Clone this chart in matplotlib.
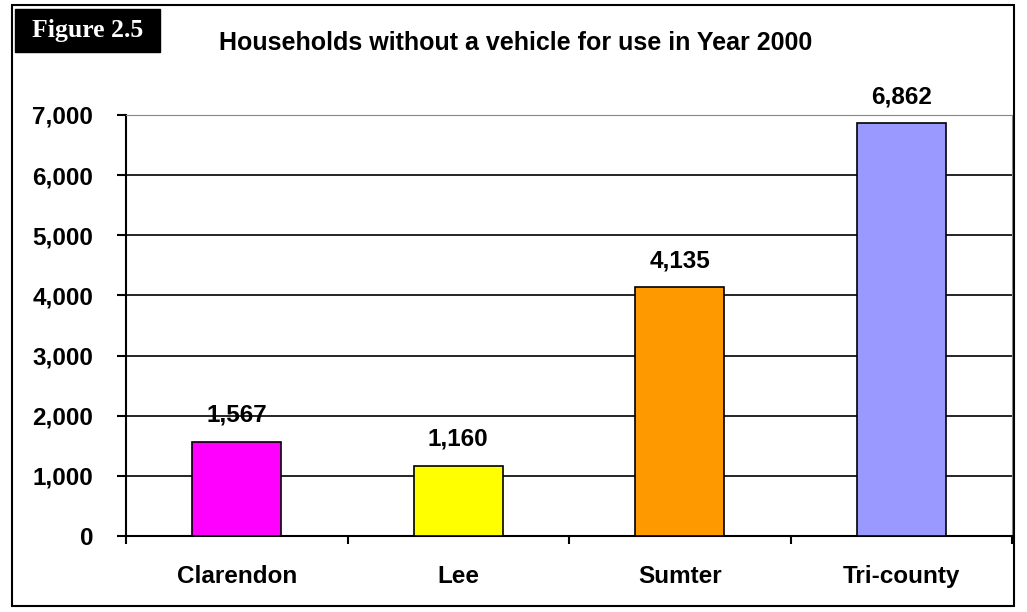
import matplotlib
matplotlib.use("Agg")
import matplotlib.pyplot as plt
from matplotlib.patches import Rectangle
from matplotlib.ticker import FuncFormatter

categories = ["Clarendon", "Lee", "Sumter", "Tri-county"]
values = [1567, 1160, 4135, 6862]
colors = ["#FF00FF", "#FFFF00", "#FF9900", "#9999FF"]
yticks = [0, 1000, 2000, 3000, 4000, 5000, 6000, 7000]

plt.rcParams['font.family'] = ['Liberation Sans', 'DejaVu Sans']

fig = plt.figure(figsize=(10.27, 6.12), dpi=100)
W, H = 1027, 612
ax = fig.add_axes([126 / W, 1 - 536 / H, (1012 - 126) / W, (536 - 115) / H])

x = list(range(len(categories)))
ax.bar(x, values, width=0.4, color=colors, edgecolor="black", linewidth=1.2, zorder=3)
ax.set_xlim(-0.5, len(categories) - 0.5)
ax.set_ylim(0, 7000)
ax.set_yticks(yticks)
ax.yaxis.set_major_formatter(FuncFormatter(lambda v, p: f"{int(v):,}"))
ax.set_xticks([i - 0.5 for i in range(len(categories) + 1)], minor=False)
ax.set_xticklabels([])
ax.set_xticks(x, minor=True)
ax.set_xticklabels(categories, minor=True)
ax.tick_params(axis="x", which="minor", length=0, pad=21, labelsize=17.5)
ax.tick_params(axis="x", which="major", length=6, width=1.5, direction="out")
ax.tick_params(axis="y", length=6.5, width=1.5, direction="out", labelsize=17.5, pad=17)
for lbl in ax.get_yticklabels() + ax.get_xticklabels(minor=True):
    lbl.set_fontweight("bold")
ax.grid(axis="y", color="black", linewidth=1.2, zorder=0)
ax.set_axisbelow(True)
ax.spines["left"].set_linewidth(1.5)
ax.spines["bottom"].set_linewidth(1.5)
ax.spines["top"].set_color("#888888")
ax.spines["right"].set_color("#888888")

for xi, v in zip(x, values):
    ax.annotate(f"{v:,}", (xi, v), xytext=(0, 11), textcoords="offset points",
                ha="center", va="bottom", fontsize=17.5, fontweight="bold")

# outer border
fig.patches.append(Rectangle((12 / W, 1 - 606 / H), (1014 - 12) / W, (606 - 5) / H,
                             transform=fig.transFigure, fill=False, edgecolor="black",
                             linewidth=1.5))
# Figure label box
fig.patches.append(Rectangle((15 / W, 1 - 52 / H), (160 - 15) / W, (52 - 9) / H,
                             transform=fig.transFigure, facecolor="black", edgecolor="black"))
fig.text(88 / W, 1 - 30 / H, "Figure 2.5", color="white", fontsize=18.5, fontweight="bold",
         family=["Liberation Serif", "DejaVu Serif"], ha="center", va="center")
fig.text(516 / W, 1 - 43 / H, "Households without a vehicle for use in Year 2000",
         fontsize=18, fontweight="bold", ha="center", va="center")

fig.savefig("out.png", dpi=100)
